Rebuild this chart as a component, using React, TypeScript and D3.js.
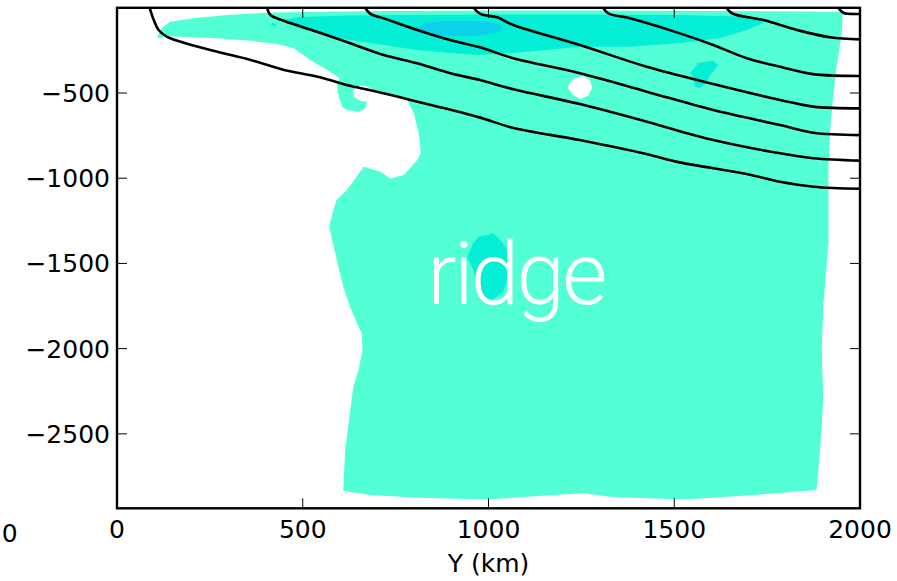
import React from "react";
import * as d3 from "d3";

// Axis ranges (km along the section, depth in m)
const xDomain: [number, number] = [0, 2000];
const yDomain: [number, number] = [-2937, 0];
const xTicks = [0, 500, 1000, 1500, 2000];
const yTicks = [-500, -1000, -1500, -2000, -2500];

// Filled field: outer envelope of the valid (non-masked) water, level 1
const fieldEnvelope: [number, number][] = [
  [108, -171], [121, -119], [143, -82], [206, -62], [296, -42], [404, -29], [538, -23],
  [762, -19], [1031, -16], [1300, -16], [1569, -19], [1839, -22], [1954, -25],
  [1951, -148], [1937, -346], [1927, -541], [1919, -735], [1915, -933], [1915, -1187],
  [1915, -1380], [1901, -1754], [1897, -2008], [1901, -2302], [1892, -2613], [1883, -2830],
  [1713, -2859], [1534, -2885], [1444, -2879], [1327, -2869], [1255, -2849], [1174, -2859],
  [995, -2885], [816, -2875], [681, -2859], [609, -2834],
  [614, -2595], [627, -2378], [636, -2224], [650, -2126], [661, -2008], [659, -1909],
  [650, -1872], [627, -1754], [609, -1637], [596, -1519], [581, -1382], [571, -1285],
  [582, -1187], [591, -1128], [619, -1069], [664, -933], [709, -962], [736, -1001],
  [772, -981], [808, -893], [818, -854], [812, -737], [799, -619], [781, -541],
  [748, -512], [700, -488], [681, -471], [664, -456], [646, -465], [635, -488],
  [638, -524], [654, -544], [673, -553], [669, -588], [654, -610], [619, -600],
  [606, -580], [597, -522], [592, -453], [599, -414], [574, -375], [520, -306],
  [476, -238], [431, -212], [359, -193], [269, -179], [180, -170], [135, -168], [112, -179],
];

// Masked hole inside the field
const fieldHole: [number, number][] = [
  [1219, -441], [1233, -412], [1254, -400], [1273, -424], [1279, -471],
  [1268, -518], [1246, -535], [1228, -512], [1214, -471],
];

// Level 2 patches
const surfaceBand: [number, number][] = [
  [450, -72], [493, -54], [627, -45], [762, -42], [1031, -39], [1300, -39], [1516, -42],
  [1696, -52], [1739, -72], [1739, -89], [1696, -130], [1623, -177], [1516, -207],
  [1381, -228], [1246, -228], [1158, -248], [1066, -265], [977, -277], [896, -265],
  [808, -248], [719, -218], [627, -189], [538, -148], [479, -113], [455, -89],
];
const eastPatch: [number, number][] = [
  [1561, -324], [1604, -310], [1618, -336], [1604, -375], [1596, -394], [1588, -441],
  [1569, -471], [1556, -463], [1551, -404], [1542, -383], [1561, -336],
];
const ridgePatch: [number, number][] = [
  [1012, -1322], [1036, -1373], [1050, -1421], [1063, -1490], [1053, -1578], [1039, -1666],
  [1012, -1711], [985, -1705], [969, -1615], [956, -1519], [942, -1468], [956, -1392],
  [972, -1343], [996, -1333],
];
const westSpeck: [number, number][] = [[412, -98], [420, -89], [431, -95], [425, -107]];

// Level 3 patch
const surfaceCore: [number, number][] = [
  [802, -119], [829, -89], [883, -77], [950, -77], [1004, -83], [1031, -101], [1039, -124],
  [1023, -148], [977, -163], [910, -166], [856, -160], [821, -142],
];

// Isopycnal contours
const contour1: [number, number][] = [
  [88, 0], [99, -72], [112, -130], [135, -170], [180, -205], [270, -258], [360, -306],
  [450, -365], [540, -404], [630, -459], [700, -492], [845, -570], [975, -643], [1065, -704],
  [1245, -776], [1425, -858], [1515, -907], [1695, -975], [1785, -1021], [1875, -1050], [2000, -1062],
];
const contour2: [number, number][] = [
  [404, 0], [413, -42], [449, -76], [538, -140], [628, -208], [718, -277], [808, -326],
  [897, -384], [977, -424], [1067, -478], [1246, -565], [1426, -668], [1605, -776],
  [1785, -854], [1874, -883], [2000, -897],
];
const contour3: [number, number][] = [
  [668, 0], [682, -36], [718, -62], [808, -130], [897, -189], [977, -232], [1067, -296],
  [1246, -384], [1426, -492], [1605, -600], [1785, -688], [1874, -733], [2000, -747],
];
const contour4: [number, number][] = [
  [960, 0], [978, -36], [1023, -56], [1067, -101], [1246, -218], [1426, -346], [1605, -447],
  [1785, -541], [1874, -580], [2000, -590],
];
const contour5: [number, number][] = [
  [1309, 0], [1322, -32], [1381, -62], [1515, -150], [1605, -218], [1695, -296], [1785, -346],
  [1874, -389], [2000, -400],
];
const contour6: [number, number][] = [
  [1641, 0], [1655, -32], [1740, -72], [1830, -130], [1919, -173], [2000, -185],
];
const contour7: [number, number][] = [[1942, 0], [1955, -29], [2000, -36]];
const contours = [contour1, contour2, contour3, contour4, contour5, contour6, contour7];

const COLORS = { level1: "#53FFD4", level2: "#05EED6", level3: "#0BD1EA" };
const FONT = "'DejaVu Sans', sans-serif";

export default function App() {
  const W = 897;
  const H = 581;
  const plot = { left: 117, right: 860, top: 7.8, bottom: 508.3 };

  const x = d3.scaleLinear().domain(xDomain).range([plot.left, plot.right]);
  const y = d3.scaleLinear().domain(yDomain).range([plot.bottom, plot.top]);

  const area = d3
    .line<[number, number]>()
    .x((d) => x(d[0]))
    .y((d) => y(d[1]))
    .curve(d3.curveLinearClosed);
  const contourLine = d3
    .line<[number, number]>()
    .x((d) => x(d[0]))
    .y((d) => y(d[1]))
    .curve(d3.curveCatmullRom.alpha(0.5));

  const tickLen = 10;

  return (
    <svg
      width={W}
      height={H}
      style={{ position: "absolute", left: 0, top: 0, background: "#fff" }}
    >
      <defs>
        <clipPath id="plotArea">
          <rect
            x={plot.left}
            y={plot.top}
            width={plot.right - plot.left}
            height={plot.bottom - plot.top}
          />
        </clipPath>
      </defs>

      <g clipPath="url(#plotArea)">
        <path
          d={(area(fieldEnvelope) || "") + (area(fieldHole) || "")}
          fill={COLORS.level1}
          fillRule="evenodd"
        />
        {[surfaceBand, eastPatch, ridgePatch, westSpeck].map((p, i) => (
          <path key={"l2-" + i} d={area(p) || ""} fill={COLORS.level2} />
        ))}
        <path d={area(surfaceCore) || ""} fill={COLORS.level3} />

        {contours.map((c, i) => (
          <path
            key={"c" + i}
            d={contourLine(c) || ""}
            fill="none"
            stroke="#000"
            strokeWidth={2.6}
          />
        ))}

        <text
          x={x(835)}
          y={y(-1738)}
          fill="#fff"
          fontFamily="Roboto, 'Liberation Sans', sans-serif"
          fontWeight={300}
          fontSize={87}
          textLength={180}
          lengthAdjust="spacing"
        >
          ridge
        </text>
      </g>

      {/* ticks on all four sides, pointing inward */}
      {xTicks.map((t) => (
        <g key={"xt" + t}>
          <line x1={x(t)} x2={x(t)} y1={plot.bottom} y2={plot.bottom - tickLen} stroke="#000" strokeWidth={1} />
          <line x1={x(t)} x2={x(t)} y1={plot.top} y2={plot.top + tickLen} stroke="#000" strokeWidth={1} />
          <text
            x={x(t)}
            y={538.3}
            textAnchor="middle"
            fontFamily={FONT}
            fontSize={25}
            fill="#000"
          >
            {t}
          </text>
        </g>
      ))}
      {yTicks.map((t) => (
        <g key={"yt" + t}>
          <line x1={plot.left} x2={plot.left + tickLen} y1={y(t)} y2={y(t)} stroke="#000" strokeWidth={1} />
          <line x1={plot.right} x2={plot.right - tickLen} y1={y(t)} y2={y(t)} stroke="#000" strokeWidth={1} />
          <text
            x={110}
            y={y(t) + 9}
            textAnchor="end"
            fontFamily={FONT}
            fontSize={25}
            fill="#000"
          >
            {"\u2212" + Math.abs(t)}
          </text>
        </g>
      ))}

      <rect
        x={plot.left}
        y={plot.top}
        width={plot.right - plot.left}
        height={plot.bottom - plot.top}
        fill="none"
        stroke="#000"
        strokeWidth={2.4}
      />

      <text
        x={(plot.left + plot.right) / 2}
        y={571.5}
        textAnchor="middle"
        fontFamily={FONT}
        fontSize={25}
        fill="#000"
      >
        Y (km)
      </text>

      {/* neighbouring panel's tick label */}
      <text x={9.8} y={541.5} textAnchor="middle" fontFamily={FONT} fontSize={25} fill="#000">
        0
      </text>
    </svg>
  );
}
